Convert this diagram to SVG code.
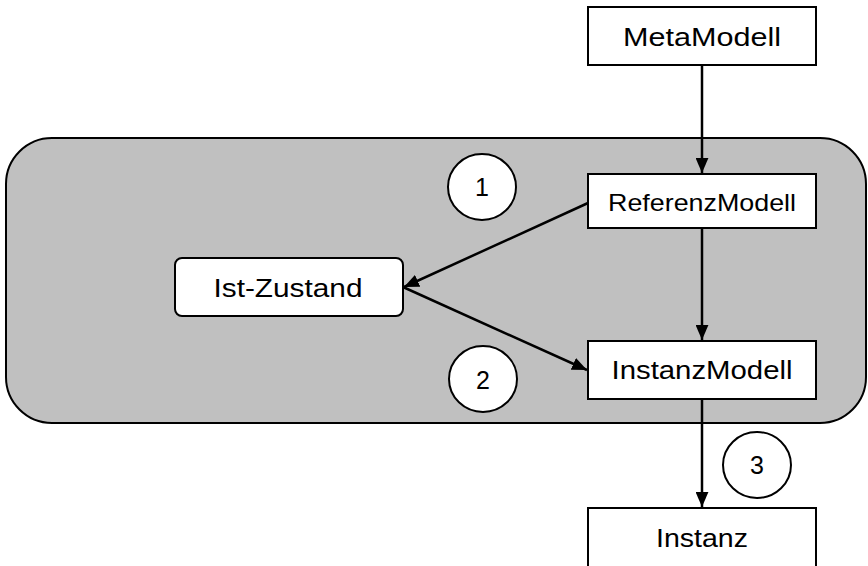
<svg xmlns="http://www.w3.org/2000/svg" width="868" height="566" viewBox="0 0 868 566">
<style>
.box{fill:#fff;stroke:#000;stroke-width:2}
.lbl{font-family:"Liberation Sans",Arial,sans-serif;font-size:25px;fill:#000;text-anchor:middle}
.num{font-family:"Liberation Sans",Arial,sans-serif;font-size:25px;fill:#000;text-anchor:middle}
.edge{fill:none;stroke:#000;stroke-width:2.5;marker-end:url(#arr)}
</style>
<defs>
<marker id="arr" viewBox="0 0 14 12" refX="14" refY="6" markerWidth="15" markerHeight="13" markerUnits="userSpaceOnUse" orient="auto">
<path d="M0,0 L14,6 L0,12 Z" fill="#000"/>
</marker>
</defs>
<g id="container">
<rect x="6" y="138" width="860" height="285" rx="46" ry="46" fill="#c0c0c0" stroke="#000" stroke-width="2"/>
</g>
<g id="connectors">
<line class="edge" x1="702" y1="65" x2="702" y2="173"/>
<line class="edge" x1="702" y1="228" x2="702" y2="340"/>
<line class="edge" x1="702" y1="399" x2="702" y2="507"/>
<line class="edge" x1="588" y1="203" x2="404" y2="287"/>
<line class="edge" x1="403" y1="287" x2="587" y2="370"/>
</g>
<g id="MetaModell">
<rect class="box" x="588" y="7" width="228" height="58"/>
<text class="lbl" x="702" y="46" textLength="158" lengthAdjust="spacingAndGlyphs">MetaModell</text>
</g>
<g id="ReferenzModell">
<rect class="box" x="588" y="174" width="228" height="54"/>
<text class="lbl" x="702" y="211" textLength="188" lengthAdjust="spacingAndGlyphs" style="font-size:24px">ReferenzModell</text>
</g>
<g id="IstZustand">
<rect class="box" x="175" y="258" width="228" height="58" rx="7" ry="7"/>
<text class="lbl" x="288" y="297" textLength="149" lengthAdjust="spacingAndGlyphs">Ist-Zustand</text>
</g>
<g id="InstanzModell">
<rect class="box" x="588" y="341" width="228" height="58"/>
<text class="lbl" x="702" y="379" textLength="181" lengthAdjust="spacingAndGlyphs">InstanzModell</text>
</g>
<g id="Instanz">
<rect class="box" x="588" y="508" width="228" height="60"/>
<text class="lbl" x="702" y="547" textLength="92" lengthAdjust="spacingAndGlyphs">Instanz</text>
</g>
<g id="marker1">
<ellipse class="box" cx="482" cy="187" rx="34" ry="33"/>
<text class="num" x="482" y="196">1</text>
</g>
<g id="marker2">
<ellipse class="box" cx="483" cy="379" rx="34" ry="33"/>
<text class="num" x="483" y="389">2</text>
</g>
<g id="marker3">
<ellipse class="box" cx="757" cy="465" rx="34" ry="33"/>
<text class="num" x="757" y="474">3</text>
</g>
</svg>
